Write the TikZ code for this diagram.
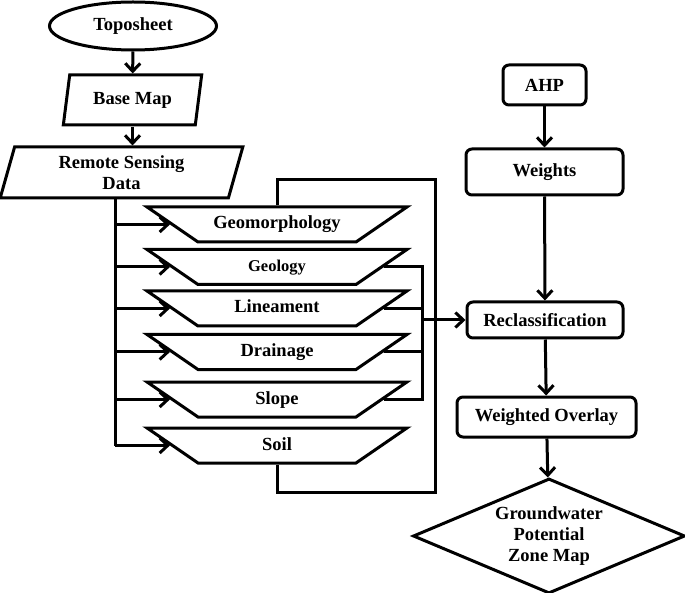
\documentclass[tikz,border=0pt]{standalone}
\usepackage{fontspec}
\setmainfont{Liberation Serif}
\usetikzlibrary{arrows.meta}
\usetikzlibrary{shapes.geometric}

\newcommand{\flowfont}{\fontsize{18.5}{21}\selectfont\bfseries}

\begin{document}
\begin{tikzpicture}[x=1pt, y=-1pt, line width=3pt,
    box/.style={draw, rounded corners=6pt, inner sep=0pt, font=\flowfont},
    para/.style={draw, trapezium, trapezium left angle=76, trapezium right angle=104, trapezium stretches=true, inner sep=0pt, font=\flowfont},
    layer/.style={draw, trapezium, trapezium left angle=34.5, trapezium right angle=34.5, shape border rotate=180, text width=158pt, align=center, text height=13pt, text depth=4pt, inner xsep=0pt, inner ysep=9pt, font=\flowfont},
    arr/.style={-{Straight Barb[length=8pt,width=15pt]}}]
      \useasboundingbox (0,0) rectangle (685,593);

      \node[draw, ellipse, minimum width=167pt, minimum height=48pt, inner sep=0pt, font=\flowfont] (topo) at (133,26) {Toposheet};
      \node[para, minimum width=139pt, minimum height=50pt] (basemap) at (132.5,100) {Base Map};
      \node[para, minimum width=243pt, minimum height=51pt, align=center] (rsd) at (121.5,172.5) {Remote Sensing\\Data};

      \node[layer] (geomorph) at (277,224.5) {Geomorphology};
      \node[layer, font=\fontsize{16.5}{20}\selectfont\bfseries] (geology) at (277,267) {Geology};
      \node[layer] (lineament) at (277,308.5) {Lineament};
      \node[layer] (drainage) at (277,352) {Drainage};
      \node[layer] (slope) at (277,399.5) {Slope};
      \node[layer] (soil) at (277,445.5) {Soil};

      \node[box, minimum width=83pt, minimum height=40pt] (ahp) at (544.5,85) {AHP};
      \node[box, minimum width=157pt, minimum height=46pt] (weights) at (544.5,172) {Weights};
      \node[box, minimum width=156pt, minimum height=36pt] (reclass) at (545,320) {Reclassification};
      \node[box, minimum width=179pt, minimum height=40pt] (overlay) at (546.5,417) {Weighted Overlay};
      \node[draw, diamond, aspect=2.37, minimum width=272pt, minimum height=115pt, inner sep=0pt, align=center, font=\flowfont] (gwpz) at (549,536) {Groundwater\\Potential\\Zone Map};

      \coordinate (trunk) at (115,445.5);
      \coordinate (brk) at (422,320);
      \coordinate (loopne) at (435,180);
      \coordinate (loopse) at (435,492);

      \draw[arr] (topo) -- (basemap);
      \draw[arr] (basemap.south) -- (basemap.south |- rsd.north);
      \draw (rsd.south -| trunk) -- (trunk);
      \foreach \n in {geomorph, geology, lineament, drainage, slope, soil}
        \draw[arr] (trunk |- \n) -- (\n.180);

      \draw (geomorph.90) |- (loopne) -- (loopse) -| (soil.270);
      \draw (geology.0) -| (brk);
      \draw (slope.0) -| (brk);
      \draw (lineament.0) -- (brk |- lineament);
      \draw (drainage.0) -- (brk |- drainage);
      \draw[arr] (brk) -- (reclass);

      \draw[arr] (ahp) -- (weights);
      \draw[arr] (weights) -- (reclass);
      \draw[arr] (reclass) -- (overlay);
      \draw[arr] (overlay) -- (gwpz);
    \end{tikzpicture}
\end{document}
